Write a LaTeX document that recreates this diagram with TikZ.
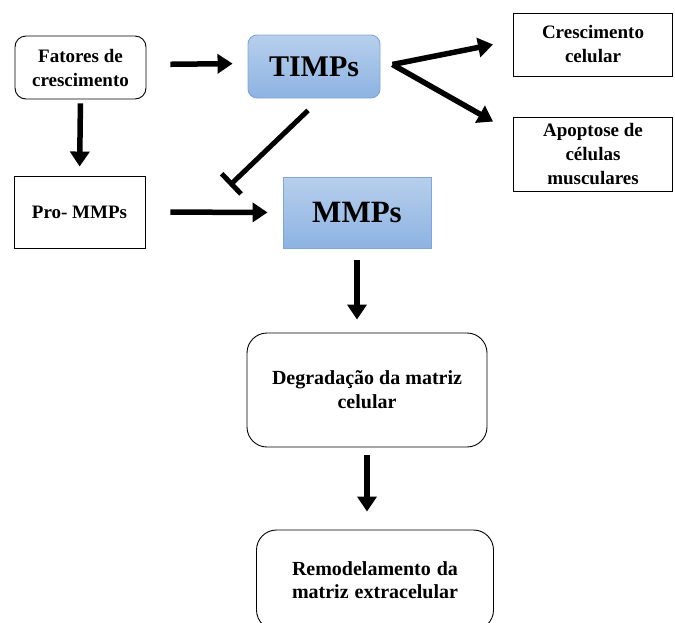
\documentclass[tikz,border=0pt]{standalone}
\usepackage{fontspec}
\setmainfont{Liberation Serif}
\usetikzlibrary{arrows.meta}
\definecolor{bluetop}{HTML}{B7CFEC}
\definecolor{bluebot}{HTML}{8DB3E2}
\definecolor{blueline}{HTML}{7EA6DA}
\begin{document}
\begin{tikzpicture}[x=1pt, y=-1pt,
  box/.style = {draw, line width=0.9pt, align=center, inner sep=0pt,
    font=\fontsize{19}{24}\selectfont\bfseries},
  rbox/.style = {box, rounded corners=11pt},
  bigbox/.style = {rbox, rounded corners=20pt, font=\fontsize{20}{24}\selectfont\bfseries},
  bluebox/.style = {draw=blueline, line width=0.9pt, top color=bluetop, bottom color=bluebot,
    font=\fontsize{31}{36}\selectfont\bfseries},
  arr/.style = {line width=5.5pt, -{Triangle[length=15pt,width=19pt]}}]
\clip (0,0) rectangle (675,622);

\node[rbox, minimum width=131pt, minimum height=63pt] (fat) at (80.5,67.5) {Fatores de\\crescimento};
\node[bluebox, rounded corners=9pt, minimum width=132pt, minimum height=63pt, font=\fontsize{30}{36}\selectfont\bfseries] (timps) at (314,66.5) {TIMPs};
\node[box, minimum width=131pt, minimum height=72pt] (pro) at (79.5,212) {Pro- MMPs};
\node[bluebox, minimum width=148pt, minimum height=71pt] (mmps) at (357,212.5) {MMPs};
\node[box, minimum width=159pt, minimum height=63pt] (cres) at (593,44.5) {Crescimento\\celular};
\node[box, minimum width=159pt, minimum height=74pt] (apop) at (593,154) {Apoptose de\\células\\musculares};
\node[bigbox, minimum width=240pt, minimum height=114pt] (deg) at (367,390) {Degradação da matriz\\celular};
\node[bigbox, minimum width=237pt, minimum height=100pt, font=\fontsize{20}{23}\selectfont\bfseries] (rem) at (375,580)
  {\makebox[166pt][s]{Remodelamento da}\\\makebox[166pt][s]{matriz extracelular}};

\coordinate (fork) at ([xshift=12pt,yshift=2pt]timps.east);

\draw[arr, shorten <=24pt, shorten >=15pt] ([yshift=3pt]fat.east) -- ([yshift=3pt]timps.west);
\draw[arr, shorten <=4pt, shorten >=9pt] (fat.south) -- (pro.north);
\draw[arr, shorten <=25pt, shorten >=15pt] (pro.east) -- (mmps.west);
\draw[line width=5pt, -{Bar[width=28pt]}] ([xshift=-6pt,yshift=-12pt]timps.south) -- ([xshift=-53pt,yshift=-9pt]mmps.north west);
\draw[arr] (fork) -- ([xshift=-20pt]cres.west);
\draw[arr] (fork) -- ([xshift=-20pt,yshift=-5pt]apop.north west);
\draw[arr, shorten <=12pt, shorten >=13pt] (mmps.south) -- (mmps.south |- deg.north);
\draw[arr, shorten <=8pt, shorten >=18pt] (deg.south) -- (deg.south |- rem.north);

\end{tikzpicture}
\end{document}
